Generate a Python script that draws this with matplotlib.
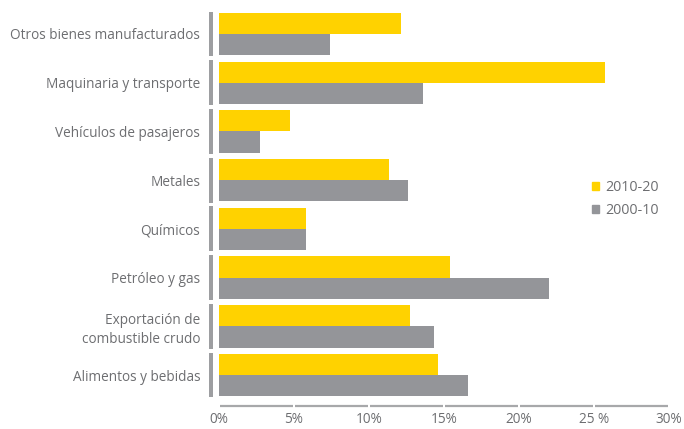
import matplotlib.pyplot as plt
from matplotlib.patches import Patch

categorias = [
    "Otros bienes manufacturados",
    "Maquinaria y transporte",
    "Vehículos de pasajeros",
    "Metales",
    "Químicos",
    "Petróleo y gas",
    "Exportación de\ncombustible crudo",
    "Alimentos y bebidas",
]
crec_2010_20 = [12.1, 25.7, 4.7, 11.3, 5.8, 15.4, 12.7, 14.6]
crec_2000_10 = [7.4, 13.6, 2.7, 12.6, 5.8, 22.0, 14.3, 16.6]
ticks_x = [0, 5, 10, 15, 20, 25, 30]
etiquetas_x = ["0%", "5%", "10%", "15%", "20%", "25 %", "30%"]

AMARILLO = "#FFD200"
GRIS = "#949599"
TEXTO = "#6D6E71"

plt.rcParams["font.family"] = ["Open Sans", "DejaVu Sans"]

fig = plt.figure(figsize=(6.84, 4.29), dpi=100)
ax = fig.add_axes([0.3202, 0.069, 0.6579, 0.9086])

y = list(range(len(categorias)))
alto = 0.435
ax.barh([i - alto / 2 for i in y], crec_2010_20, height=alto, color=AMARILLO, label="2010-20")
ax.barh([i + alto / 2 for i in y], crec_2000_10, height=alto, color=GRIS, label="2000-10")

# separadores verticales a la izquierda de cada categoría
ax.barh(y, [0.27] * len(y), left=-0.67, height=0.92, color="#9D9EA1", clip_on=False)

ax.set_xlim(0, 30)
ax.set_ylim(len(categorias) - 0.5, -0.5)

ax.set_yticks(y)
ax.set_yticklabels(categorias, color=TEXTO, fontsize=9.8, linespacing=1.3)
ax.tick_params(axis="y", length=0, pad=13.5)

ax.set_xticks(ticks_x)
ax.set_xticklabels(etiquetas_x, color=TEXTO, fontsize=9.8)
ax.tick_params(axis="x", length=0, pad=9)

for s in ax.spines.values():
    s.set_visible(False)

# eje x en tramos separados entre marcas
trans = ax.get_xaxis_transform()
for a, b in zip(ticks_x[:-1], ticks_x[1:]):
    ax.plot([a + 0.08, b - 0.08], [-0.018, -0.018], color="#A7A8AA", lw=1.6,
            transform=trans, clip_on=False, solid_capstyle="butt")

handles = [Patch(color=AMARILLO, label="2010-20"), Patch(color=GRIS, label="2000-10")]
leg = fig.legend(handles=handles, loc="center left", bbox_to_anchor=(0.846, 0.536),
                 frameon=False, fontsize=10.3, handlelength=0.5, handleheight=0.5,
                 handletextpad=0.45, labelspacing=0.55)
for t in leg.get_texts():
    t.set_color(TEXTO)

fig.savefig("out.png", dpi=100)
